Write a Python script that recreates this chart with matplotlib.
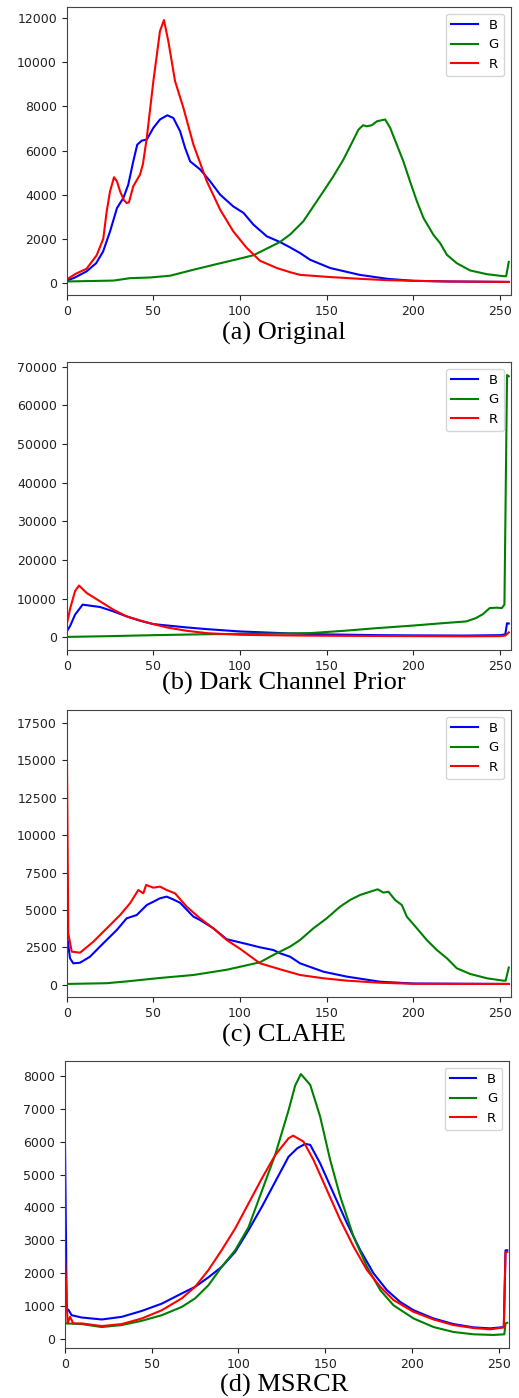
import matplotlib
matplotlib.use('Agg')
import matplotlib.pyplot as plt

# histogram readings, bin -> pixel count, one list per channel

# (a) Original
a_bx = [0, 5, 11.5, 17, 21, 25, 29, 32.7, 35.5, 38.4, 40.7, 43.3, 46.2, 50, 53.8, 58, 61.5, 65.4, 68.3, 71.2, 77, 82.7, 88.5, 96, 102, 107.7, 115.4, 123, 129, 134.6, 140.4, 152, 169, 185, 200, 220, 255]
a_b = [90, 250, 520, 890, 1420, 2330, 3390, 3850, 4450, 5510, 6270, 6450, 6500, 7030, 7410, 7600, 7480, 6880, 6120, 5510, 5140, 4610, 4000, 3470, 3170, 2640, 2110, 1850, 1600, 1350, 1045, 670, 360, 180, 90, 60, 40]
a_gx = [0, 27, 36.5, 48, 59.6, 73, 86.6, 100, 107.7, 115.4, 123, 129, 136.5, 142.3, 148.1, 153.8, 159.6, 164.5, 168.3, 171, 173, 176, 179, 183.7, 186.6, 190.4, 194.2, 198, 202, 205.8, 211.5, 215.4, 219.3, 225, 232.7, 242.4, 251.9, 253.5, 255]
a_g = [60, 100, 210, 240, 320, 590, 850, 1100, 1250, 1550, 1850, 2200, 2790, 3470, 4150, 4830, 5590, 6350, 6950, 7150, 7100, 7150, 7330, 7410, 7030, 6270, 5510, 4610, 3700, 2940, 2180, 1800, 1270, 890, 560, 390, 300, 300, 950]
a_rx = [0, 5, 11.5, 17.3, 21.1, 23, 25, 27.3, 29, 30.8, 33, 34.6, 35.9, 38.4, 42.3, 44, 46.2, 50, 53.8, 56.1, 58.6, 62.5, 67.3, 73.1, 80.8, 88.5, 96.1, 103.9, 111.5, 121.2, 128.9, 134.6, 151.9, 169.2, 184.7, 200, 219.3, 255]
a_r = [150, 400, 640, 1250, 2000, 3200, 4150, 4790, 4600, 4150, 3750, 3620, 3650, 4380, 4910, 5400, 6580, 9150, 11420, 11920, 10970, 9150, 7940, 6270, 4610, 3320, 2330, 1580, 1000, 670, 480, 360, 260, 180, 120, 90, 60, 40]

# (b) Dark Channel Prior
b_bx = [0, 2, 4.8, 9.2, 13.4, 19.2, 26.9, 34.6, 42.3, 50, 57.7, 69.2, 80.8, 100, 128.9, 150, 180, 200, 230, 250, 253, 254, 255]
b_b = [1560, 3000, 5890, 8490, 8230, 7880, 6750, 5450, 4330, 3460, 3110, 2600, 2160, 1560, 1040, 800, 600, 550, 500, 600, 800, 3700, 3600]
b_gx = [0, 25, 50, 75, 100, 122, 141, 160, 179, 198, 217, 230.5, 236, 240, 244, 248, 251, 252.5, 254, 255]
b_g = [150, 350, 600, 800, 950, 1000, 1150, 1730, 2420, 3020, 3700, 4150, 5000, 6000, 7600, 7700, 7600, 8500, 67800, 67500]
b_rx = [0, 2, 4.8, 7.1, 11.5, 19.2, 26.9, 34.6, 44.2, 50, 57.7, 69.2, 80.8, 100, 128.9, 150, 200, 230, 250, 253, 255]
b_r = [3300, 7500, 11950, 13430, 11500, 9350, 7190, 5450, 4160, 3460, 2600, 1730, 1120, 690, 520, 450, 350, 300, 350, 500, 1300]

# (c) CLAHE
c_bx = [0, 1.9, 3.8, 7.7, 13.4, 21.1, 28.9, 34.6, 40.4, 46.2, 50, 53.8, 57.7, 61.5, 65.4, 73.1, 76.9, 84.6, 92.3, 98.1, 103.9, 111.5, 119.2, 123.1, 128.9, 134.6, 148.1, 161.6, 180.8, 200, 255]
c_b = [3500, 1770, 1430, 1470, 1870, 2770, 3660, 4440, 4660, 5330, 5550, 5780, 5890, 5700, 5480, 4550, 4330, 3770, 3040, 2880, 2720, 2500, 2320, 2100, 1870, 1430, 870, 540, 200, 80, 50]
c_gx = [0, 23, 34.6, 53.8, 73.1, 92.3, 100, 111.5, 119.2, 128.9, 134.6, 142.3, 150, 157.7, 163.5, 169.2, 174, 179.4, 182.7, 185.6, 189.4, 193.3, 196.2, 202, 207.7, 213.5, 219.3, 225, 232.7, 242.4, 251.9, 253.2, 255]
c_g = [50, 100, 220, 450, 650, 1000, 1200, 1500, 1990, 2550, 2990, 3770, 4440, 5220, 5670, 6000, 6180, 6380, 6160, 6220, 5670, 5330, 4550, 3770, 2990, 2320, 1770, 1100, 720, 430, 270, 270, 1150]
c_rx = [0, 0.9, 2.9, 7.7, 15.4, 23.1, 30.8, 36.5, 41.3, 44.2, 45.8, 50, 53.8, 57.7, 62.5, 69.2, 76.9, 84.6, 92.3, 100, 111.5, 123.1, 134.6, 148.1, 161.6, 180.8, 200, 255]
c_r = [17500, 3440, 2210, 2140, 2880, 3770, 4660, 5440, 6330, 6110, 6670, 6490, 6560, 6330, 6110, 5220, 4440, 3770, 2990, 2400, 1430, 1030, 650, 430, 270, 130, 60, 50]

# (d) MSRCR
d_bx = [0, 1, 1.9, 3.8, 9.6, 21.2, 32.7, 44.3, 55.8, 67.3, 75, 82.7, 90.4, 98.1, 105.8, 113.5, 121.2, 128.9, 134, 138.5, 141.4, 147.1, 154.8, 162.6, 170.2, 177.9, 185.6, 193.3, 201, 212.5, 224, 235.6, 245.2, 253, 254, 255]
d_b = [5950, 880, 900, 730, 660, 600, 680, 860, 1080, 1390, 1590, 1880, 2200, 2650, 3310, 4020, 4780, 5540, 5800, 5930, 5900, 5340, 4430, 3520, 2710, 2000, 1490, 1130, 880, 630, 460, 360, 330, 370, 2700, 2700]
d_gx = [0, 1, 9.6, 21.2, 32.7, 44.3, 55.8, 67.3, 75, 82.7, 90.4, 98.1, 105.8, 113.5, 121.2, 128.9, 132.7, 136, 141.4, 147.1, 152.9, 158.7, 166.4, 174.1, 181.8, 189.4, 201, 212.5, 224, 235.6, 247.1, 253.3, 254, 255]
d_g = [500, 480, 460, 370, 430, 560, 730, 980, 1240, 1640, 2200, 2700, 3400, 4500, 5600, 6950, 7700, 8050, 7720, 6760, 5440, 4330, 3110, 2200, 1490, 1030, 630, 370, 220, 150, 130, 150, 480, 500]
d_rx = [0, 1.5, 2.9, 4.8, 9.6, 21.2, 32.7, 44.3, 55.8, 67.3, 75, 82.7, 90.4, 98.1, 105.8, 113.5, 121.2, 128.9, 131.5, 137.5, 143.3, 151, 158.7, 166.4, 174.1, 181.8, 189.4, 201, 212.5, 224, 235.6, 245.2, 253, 254, 255]
d_r = [2500, 480, 680, 480, 480, 400, 460, 630, 880, 1240, 1590, 2100, 2710, 3360, 4120, 4880, 5590, 6100, 6180, 6000, 5440, 4530, 3620, 2810, 2100, 1590, 1190, 830, 600, 430, 340, 300, 360, 2650, 2650]

captions = ['(a) Original', '(b) Dark Channel Prior', '(c) CLAHE', '(d) MSRCR']

panels = [
    (a_bx, a_b, a_gx, a_g, a_rx, a_r),
    (b_bx, b_b, b_gx, b_g, b_rx, b_r),
    (c_bx, c_b, c_gx, c_g, c_rx, c_r),
    (d_bx, d_b, d_gx, d_g, d_rx, d_r),
]

W, H = 519, 1398
# axes boxes in pixels: left, top, right, bottom
boxes = [(66.7, 7, 510.5, 295), (66.7, 362, 510.5, 650), (66.7, 710, 510.5, 997), (65, 1061, 509, 1348)]
cap_y = [333, 683, 1035, 1385]

fig = plt.figure(figsize=(W / 100, H / 100), dpi=100)

for i in range(4):
    l, t, r, b = boxes[i]
    ax = fig.add_axes([l / W, (H - b) / H, (r - l) / W, (b - t) / H])
    bx, bv, gx, gv, rx, rv = panels[i]
    ax.plot(bx, bv, color='b', lw=1.5, label='B')
    ax.plot(gx, gv, color='g', lw=1.5, label='G')
    ax.plot(rx, rv, color='r', lw=1.5, label='R')
    ax.set_xlim([0, 256])
    ax.tick_params(labelsize=9, colors='#222222')
    for s in ax.spines.values():
        s.set_color('#444444')
    ax.legend(loc='upper right', fontsize=9.5)
    fig.text(284 / W, 1 - cap_y[i] / H, captions[i], ha='center', va='center',
             family='Liberation Serif', fontsize=19)

fig.savefig('out.png', dpi=100)
